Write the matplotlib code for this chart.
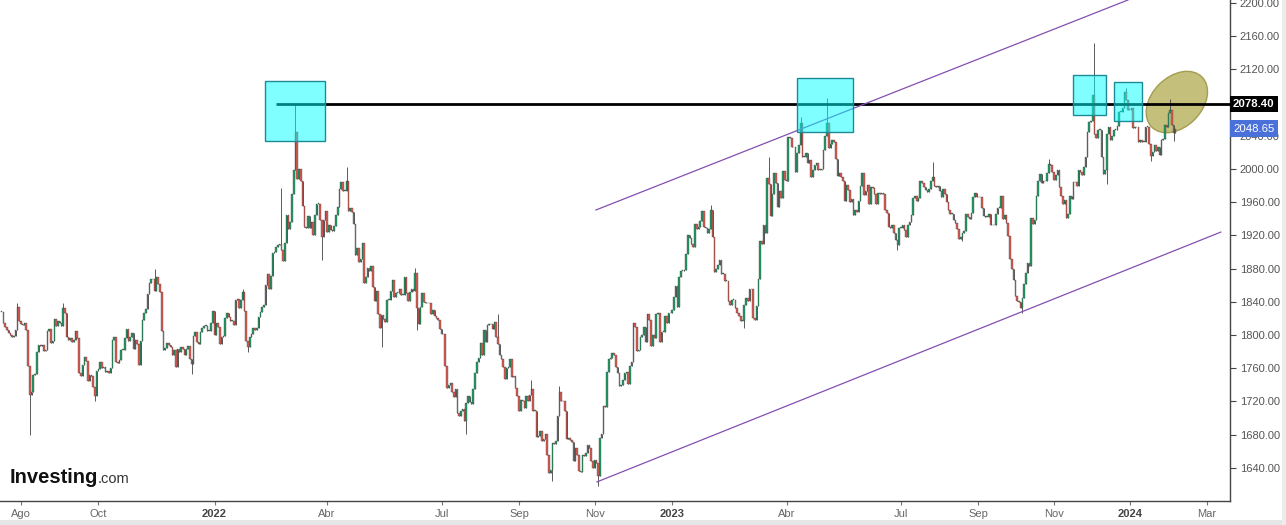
import numpy as np
import pandas as pd
import matplotlib
matplotlib.use("Agg")
import matplotlib.pyplot as plt
from matplotlib.patches import Rectangle, Ellipse
from matplotlib.transforms import ScaledTranslation, blended_transform_factory

plt.rcParams['font.family'] = ['Liberation Sans', 'DejaVu Sans']

# Gold futures, daily closes (one value per weekday)
close_2021_07 = [1828, 1815, 1810, 1806, 1803, 1800, 1798, 1799, 1806, 1834, 1817]  # from Jul 16
close_2021_08 = [1813, 1812, 1815, 1806, 1763, 1728, 1731, 1752, 1753, 1779, 1788, 1787, 1788, 1781, 1782,
                 1805, 1807, 1790, 1793, 1819, 1811, 1817]
close_2021_09 = [1815, 1811, 1833, 1826, 1798, 1794, 1796, 1792, 1794, 1805, 1796, 1754, 1751, 1764, 1774,
                 1769, 1745, 1752, 1751, 1737, 1726, 1757]
close_2021_10 = [1759, 1768, 1760, 1761, 1756, 1757, 1754, 1760, 1794, 1797, 1768, 1766, 1770, 1782, 1782,
                 1796, 1807, 1793, 1798, 1802, 1783]
close_2021_11 = [1794, 1789, 1764, 1793, 1818, 1826, 1831, 1849, 1863, 1868, 1867, 1853, 1870, 1862, 1852,
                 1805, 1782, 1784, 1790, 1788, 1785, 1776]
close_2021_12 = [1782, 1762, 1783, 1779, 1785, 1783, 1776, 1783, 1787, 1771, 1765, 1799, 1804, 1792, 1789,
                 1804, 1809, 1811, 1811, 1805, 1805, 1814, 1829]
close_2022_01 = [1800, 1815, 1810, 1789, 1797, 1799, 1821, 1827, 1822, 1817, 1817, 1812, 1842, 1843, 1833,
                 1842, 1852, 1829, 1793, 1785, 1797]
close_2022_02 = [1801, 1808, 1806, 1808, 1822, 1828, 1834, 1836, 1860, 1873, 1856, 1871, 1899, 1900, 1906,
                 1908, 1910, 1903, 1889, 1911]
close_2022_03 = [1944, 1928, 1936, 1970, 1999, 2044, 1988, 2000, 1985, 1955, 1930, 1929, 1943, 1929, 1936,
                 1921, 1944, 1958, 1958, 1939, 1918, 1938, 1949]
close_2022_04 = [1924, 1933, 1927, 1925, 1931, 1945, 1954, 1976, 1984, 1974, 1974, 1986, 1949, 1953, 1948,
                 1934, 1896, 1905, 1888, 1891, 1911]
close_2022_05 = [1863, 1870, 1881, 1877, 1883, 1858, 1841, 1853, 1825, 1808, 1824, 1819, 1816, 1842, 1842,
                 1853, 1866, 1846, 1851, 1851, 1855, 1848]
close_2022_06 = [1848, 1870, 1851, 1841, 1852, 1855, 1853, 1875, 1832, 1813, 1834, 1850, 1840, 1839, 1838,
                 1838, 1825, 1830, 1823, 1821, 1818, 1807]
close_2022_07 = [1801, 1801, 1763, 1736, 1740, 1742, 1731, 1725, 1735, 1706, 1703, 1709, 1711, 1696, 1718,
                 1727, 1719, 1717, 1735, 1754, 1768]
close_2022_08 = [1772, 1790, 1776, 1806, 1791, 1812, 1813, 1813, 1807, 1816, 1797, 1789, 1776, 1771, 1762,
                 1747, 1760, 1762, 1771, 1749, 1750, 1736, 1726]
close_2022_09 = [1709, 1722, 1720, 1712, 1727, 1721, 1728, 1735, 1709, 1709, 1677, 1678, 1684, 1672, 1675,
                 1681, 1655, 1634, 1637, 1670, 1669, 1672]
close_2022_10 = [1702, 1731, 1721, 1720, 1709, 1675, 1676, 1673, 1671, 1648, 1664, 1656, 1636, 1635, 1656,
                 1654, 1658, 1668, 1664, 1648, 1640]
close_2022_11 = [1649, 1646, 1630, 1676, 1681, 1715, 1713, 1755, 1771, 1772, 1778, 1776, 1761, 1754, 1738,
                 1740, 1746, 1754, 1755, 1741, 1763, 1768]
close_2022_12 = [1815, 1810, 1781, 1782, 1798, 1800, 1810, 1792, 1825, 1818, 1787, 1800, 1796, 1825, 1826,
                 1792, 1804, 1804, 1823, 1815, 1826, 1826]
close_2023_01 = [1830, 1846, 1859, 1834, 1870, 1877, 1877, 1878, 1898, 1921, 1917, 1910, 1906, 1934, 1928,
                 1930, 1937, 1949, 1930, 1929, 1923, 1928]
close_2023_02 = [1951, 1918, 1876, 1879, 1884, 1890, 1874, 1874, 1865, 1865, 1841, 1836, 1842, 1842, 1833,
                 1826, 1823, 1817, 1817, 1836]
close_2023_03 = [1845, 1841, 1856, 1855, 1820, 1818, 1835, 1868, 1913, 1910, 1932, 1923, 1989, 1982, 1943,
                 1970, 1995, 1983, 1954, 1974, 1965, 1998, 1987]
close_2023_04 = [1985, 2038, 2037, 2026, 2026, 1996, 2019, 2029, 2055, 2015, 2015, 2019, 2007, 2011, 1990,
                 1999, 2005, 2007, 1999, 1999]
close_2023_05 = [2000, 2023, 2040, 2055, 2025, 2030, 2035, 2032, 2012, 1992, 1995, 1990, 1985, 1962, 1981,
                 1975, 1960, 1964, 1945, 1950, 1948, 1962, 1980]
close_2023_06 = [1995, 1969, 1974, 1981, 1958, 1978, 1977, 1970, 1958, 1971, 1970, 1971, 1970, 1950, 1947,
                 1930, 1929, 1933, 1923, 1914, 1908, 1929]
close_2023_07 = [1929, 1932, 1927, 1918, 1932, 1936, 1945, 1965, 1968, 1962, 1965, 1985, 1983, 1978, 1975,
                 1972, 1976, 1985, 1990, 1980, 1978]
close_2023_08 = [1979, 1973, 1966, 1976, 1970, 1960, 1950, 1946, 1946, 1939, 1935, 1928, 1916, 1918, 1923,
                 1925, 1946, 1942, 1940, 1947, 1966, 1971, 1966]
close_2023_09 = [1966, 1966, 1953, 1943, 1942, 1942, 1946, 1933, 1932, 1932, 1946, 1953, 1953, 1967, 1940,
                 1945, 1935, 1919, 1891, 1880, 1866]
close_2023_10 = [1847, 1841, 1840, 1832, 1845, 1862, 1875, 1887, 1883, 1941, 1934, 1938, 1968, 1985, 1994,
                 1983, 1985, 1985, 1995, 2006, 2005, 1996]
close_2023_11 = [1987, 1993, 1999, 1978, 1967, 1958, 1963, 1941, 1946, 1967, 1964, 1984, 1984, 1979, 1999,
                 1996, 1993, 2003, 2015, 2045, 2057, 2058]
close_2023_12 = [2089, 2042, 2037, 2047, 2047, 2014, 1994, 1999, 2042, 2050, 2035, 2040, 2047, 2047, 2052,
                 2069, 2069, 2073, 2093, 2083, 2071]
close_2024_01 = [2071, 2073, 2049, 2050, 2050, 2033, 2035, 2033, 2033, 2051, 2051, 2030, 2016, 2021, 2029,
                 2022, 2027, 2017, 2035, 2036, 2053, 2051, 2067]
close_2024_02 = [2071, 2053, 2043, 2048.65]  # to Feb 6

# notable wicks beyond the candle bodies
wick_high = {"2021-07-29": 1838, "2021-09-03": 1838, "2021-11-16": 1880, "2022-01-25": 1856,
             "2022-02-24": 1977, "2022-03-08": 2079, "2022-04-18": 2003, "2022-06-10": 1881,
             "2022-08-16": 1825, "2022-09-12": 1746, "2022-10-04": 1738, "2023-02-01": 1957,
             "2023-03-20": 2014, "2023-04-13": 2063, "2023-05-04": 2085, "2023-07-27": 2008,
             "2023-10-27": 2012, "2023-12-04": 2152, "2023-12-28": 2098, "2024-02-01": 2084}
wick_low = {"2021-08-09": 1680, "2021-09-29": 1721, "2021-12-15": 1753, "2022-01-28": 1780,
            "2022-03-29": 1890, "2022-05-16": 1786, "2022-06-13": 1806, "2022-07-21": 1681,
            "2022-09-28": 1624, "2022-11-03": 1618, "2023-02-28": 1808, "2023-06-29": 1903,
            "2023-08-21": 1913, "2023-10-06": 1826, "2023-12-13": 1982, "2024-01-17": 2010,
            "2024-02-05": 2034}

resistance = 2078.40
last_price = 2048.65

tick_months = ["2021-08", "2021-10", "2022-01", "2022-04", "2022-07", "2022-09", "2022-11",
               "2023-01", "2023-04", "2023-07", "2023-09", "2023-11", "2024-01", "2024-03"]
tick_labels = ["Ago", "Oct", "2022", "Abr", "Jul", "Sep", "Nov",
               "2023", "Abr", "Jul", "Sep", "Nov", "2024", "Mar"]

segments = [("2021-07-16", "2021-07-31", close_2021_07)]
for key, vals in [("2021-08", close_2021_08), ("2021-09", close_2021_09), ("2021-10", close_2021_10),
                  ("2021-11", close_2021_11), ("2021-12", close_2021_12), ("2022-01", close_2022_01),
                  ("2022-02", close_2022_02), ("2022-03", close_2022_03), ("2022-04", close_2022_04),
                  ("2022-05", close_2022_05), ("2022-06", close_2022_06), ("2022-07", close_2022_07),
                  ("2022-08", close_2022_08), ("2022-09", close_2022_09), ("2022-10", close_2022_10),
                  ("2022-11", close_2022_11), ("2022-12", close_2022_12), ("2023-01", close_2023_01),
                  ("2023-02", close_2023_02), ("2023-03", close_2023_03), ("2023-04", close_2023_04),
                  ("2023-05", close_2023_05), ("2023-06", close_2023_06), ("2023-07", close_2023_07),
                  ("2023-08", close_2023_08), ("2023-09", close_2023_09), ("2023-10", close_2023_10),
                  ("2023-11", close_2023_11), ("2023-12", close_2023_12), ("2024-01", close_2024_01)]:
    p = pd.Period(key, "M")
    segments.append((p.start_time, p.end_time.normalize(), vals))
segments.append(("2024-02-01", "2024-02-06", close_2024_02))

dates, close = [], []
for start, end, vals in segments:
    d = pd.bdate_range(start, end)
    assert len(d) == len(vals), f"{start}: {len(d)} weekdays vs {len(vals)} values"
    dates.extend(d)
    close.extend(vals)
dates = pd.DatetimeIndex(dates)
close = np.array(close, dtype=float)

full_days = pd.bdate_range("2021-07-16", "2024-03-29")
x = full_days.get_indexer(dates)

opens = np.r_[close[0], close[:-1]]
highs = np.maximum(opens, close)
lows = np.minimum(opens, close)
for d, v in wick_high.items():
    i = dates.get_loc(pd.Timestamp(d))
    highs[i] = max(highs[i], v)
for d, v in wick_low.items():
    i = dates.get_loc(pd.Timestamp(d))
    lows[i] = min(lows[i], v)

W, H = 1286, 525
fig = plt.figure(figsize=(W / 100, H / 100), dpi=100)
ax = fig.add_axes([0, 24 / H, 1230 / W, 501 / H])
ax.set_xlim(-0.9, 698)
ax.set_ylim(1600, 2203.6)

green, red, edge = "#1f9d66", "#e05a50", "#404040"

# candles
ax.vlines(x, lows, highs, color=edge, lw=0.6, zorder=2)
body = close - opens
body = np.where(np.abs(body) < 0.8, 0.8, body)
up = close >= opens
ax.bar(x[up], body[up], bottom=opens[up], width=0.88, color=green, edgecolor=edge, lw=0.25, zorder=2.2)
ax.bar(x[~up], body[~up], bottom=opens[~up], width=0.88, color=red, edgecolor=edge, lw=0.25, zorder=2.2)

# drawings
ax.hlines(resistance, 155.9, 698, color="black", lw=2, zorder=3)
ax.plot([337.7, 640], [1950.6, 2203.6], color="#8450b0", lw=0.9, zorder=3)
ax.plot([338.3, 692.8], [1623, 1924], color="#8450b0", lw=0.9, zorder=3)

for x0, x1, p0, p1 in [(149.7, 183.7, 2033.7, 2106.0), (452, 484, 2044.6, 2109.6),
                       (608.7, 627.5, 2065.0, 2113.3), (632, 648, 2057.8, 2104.8)]:
    ax.add_patch(Rectangle((x0, p0), x1 - x0, p1 - p0, facecolor=(0, 1, 1, 0.5),
                           edgecolor="#1f8a96", lw=1, zorder=4))

etrans = fig.dpi_scale_trans + ScaledTranslation(667.8, 2080.7, ax.transData)
ax.add_patch(Ellipse((0, 0), 0.71, 0.50, angle=45, transform=etrans, facecolor="#bab463",
                     alpha=0.85, edgecolor="#98933f", lw=1, zorder=1.5))

# axes styling
for s in ["left", "top"]:
    ax.spines[s].set_visible(False)
for s in ["right", "bottom"]:
    ax.spines[s].set_color("#444444")
    ax.spines[s].set_linewidth(1)

ax.yaxis.tick_right()
yt = np.arange(1640, 2201, 40)
ax.set_yticks(yt)
# the 2080 label sits under the resistance tag
ax.set_yticklabels(["" if v == 2080 else f"{v:.2f}" for v in yt])
ax.tick_params(axis="y", direction="out", length=4, width=0.8, color="#444444",
               labelsize=8, labelcolor="#555555", pad=3)

xt = [full_days.searchsorted(pd.Timestamp(m)) for m in tick_months]
ax.set_xticks(xt)
ax.set_xticklabels(tick_labels)
ax.tick_params(axis="x", direction="out", length=3, width=0.8, color="#777777",
               labelsize=8, labelcolor="#666666", pad=3)
for lab in ax.get_xticklabels():
    if lab.get_text().isdigit():
        lab.set_fontweight("bold")
        lab.set_color("#444444")

# price tags
bt = blended_transform_factory(ax.transAxes, ax.transData)
ax.text(1.0025, resistance, f"{resistance:.2f}", transform=bt, ha="left", va="center",
        color="white", fontsize=8.2, fontweight="bold", zorder=6, clip_on=False,
        bbox=dict(boxstyle="square,pad=0.3", facecolor="black", edgecolor="none"))
ax.text(1.0025, last_price, f"{last_price:.2f}", transform=bt, ha="left", va="center",
        color="white", fontsize=8.2, zorder=6, clip_on=False,
        bbox=dict(boxstyle="square,pad=0.3", facecolor="#4a70d9", edgecolor="none"))

# logo
fig.text(10 / W, (H - 483) / H, "Investing", fontsize=14.5, fontweight="bold", color="#111111",
         ha="left", va="baseline")
fig.text(98 / W, (H - 483) / H, ".com", fontsize=10.5, color="#333333", ha="left", va="baseline")

# bottom scroll strip and right edge
fig.patches.append(Rectangle((0, 0), 1, 5 / H, transform=fig.transFigure, facecolor="#e6e6e6",
                             edgecolor="none", zorder=0))
fig.patches.append(Rectangle((1282 / W, 0), 4 / W, 1, transform=fig.transFigure, facecolor="#ececec",
                             edgecolor="none", zorder=0))

fig.savefig("out.png", dpi=100)
